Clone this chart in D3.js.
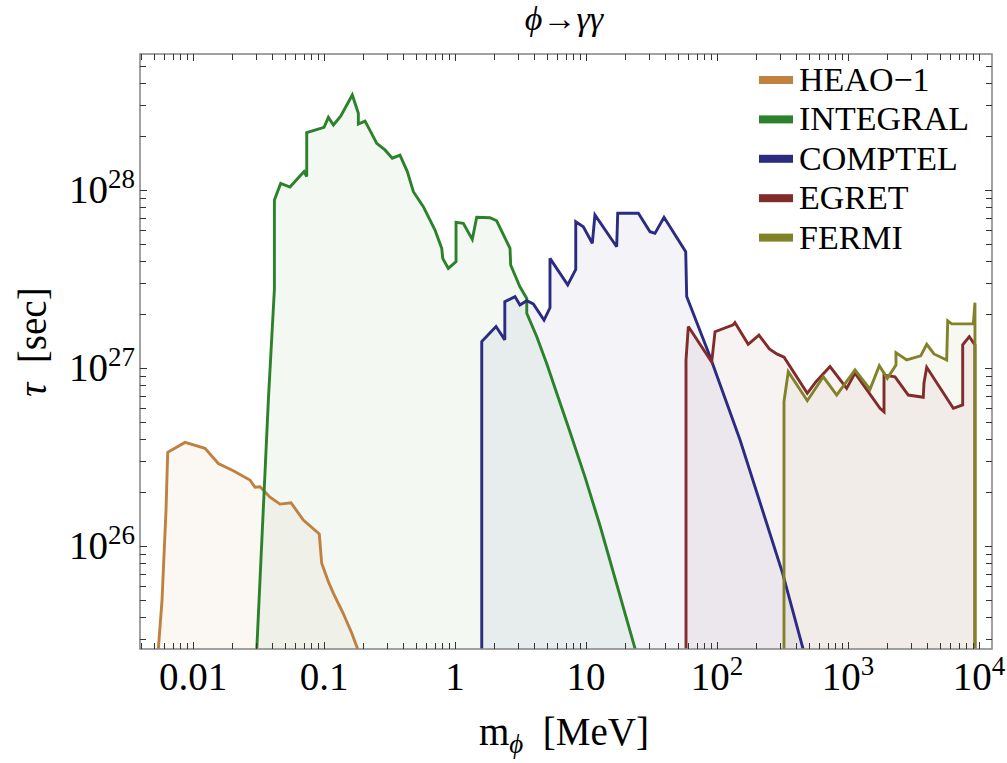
<!DOCTYPE html>
<html>
<head>
<meta charset="utf-8">
<script src="https://cdn.jsdelivr.net/npm/d3@7"></script>
<style>
  body { margin: 0; background: #fff; }
  text { font-family: "Liberation Serif", "Times New Roman", serif; fill: #000; }
</style>
</head>
<body>
<svg id="chart" width="1007" height="763"></svg>
<script>
// Lifetime limits tau (sec) versus scalar mass m (MeV) for phi -> gamma gamma.
const seriesNames = ["HEAO\u22121", "INTEGRAL", "COMPTEL", "EGRET", "FERMI"];
const seriesColors = ["#c0803f", "#2b822b", "#2b2b82", "#822b2b", "#82822b"];

const heaoData = [
  [0.00536, 2.3e25], [0.0058, 4.97e25], [0.00622, 1.59e26], [0.00641, 3.36e26],
  [0.00869, 3.82e26], [0.01235, 3.54e26], [0.0156, 2.91e26], [0.0203, 2.65e26],
  [0.0272, 2.35e26], [0.0297, 2.14e26], [0.0325, 2.15e26], [0.0387, 1.88e26],
  [0.0461, 1.72e26], [0.056, 1.75e26], [0.0695, 1.40e26], [0.092, 1.17e26],
  [0.096, 8.0e25], [0.108, 6.3e25], [0.118, 5.42e25], [0.140, 4.19e25],
  [0.163, 3.24e25], [0.1916, 2.35e25]
];

const integralData = [
  [0.0305, 2.4e25], [0.0376, 6.61e26], [0.0418, 2.77e27], [0.0418, 8.79e27],
  [0.0467, 1.09e28], [0.055, 1.04e28], [0.0704, 1.27e28], [0.0738, 1.19e28],
  [0.0738, 2.10e28], [0.1, 2.25e28], [0.108, 2.56e28], [0.118, 2.32e28],
  [0.134, 2.60e28], [0.1644, 3.42e28], [0.1828, 2.70e28], [0.1828, 2.35e28],
  [0.2056, 2.44e28], [0.227, 2.13e28], [0.2525, 1.83e28], [0.292, 1.68e28],
  [0.332, 1.51e28], [0.38, 1.57e28], [0.4325, 1.27e28], [0.481, 9.78e27],
  [0.573, 8.06e27], [0.7035, 5.96e27], [0.792, 4.70e27], [0.806, 4.13e27],
  [0.889, 3.63e27], [1.018, 3.96e27], [1.018, 6.58e27], [1.157, 6.50e27],
  [1.355, 5.28e27], [1.464, 7.03e27], [1.85, 6.99e27], [2.08, 6.72e27],
  [2.63, 4.70e27], [2.66, 3.79e27], [3.13, 2.86e27], [3.53, 2.46e27],
  [3.53, 2.03e27], [4.21, 1.50e27], [5.01, 1.06e27], [5.98, 7.21e26],
  [7.46, 4.49e26], [9.83, 2.44e26], [12.8, 1.30e26], [24.7, 2.38e25]
];

const comptelData = [
  [1.6, 2.4e25], [1.6, 1.41e27], [2.056, 1.71e27], [2.4, 1.44e27],
  [2.4, 2.36e27], [2.87, 2.52e27], [3.13, 2.26e27], [3.53, 2.39e27],
  [3.96, 2.29e27], [4.78, 1.86e27], [5.31, 2.18e27], [5.31, 4.13e27],
  [7.25, 2.93e27], [8.35, 3.58e27], [8.35, 6.64e27], [9.54, 6.22e27],
  [11.17, 5.02e27], [11.7, 7.24e27], [17.15, 4.80e27], [17.46, 7.40e27],
  [25.1, 7.40e27], [30.8, 5.83e27], [33.6, 5.71e27], [39.4, 7.03e27],
  [57.7, 4.50e27], [58.7, 2.52e27], [88.4, 1.16e27], [150, 3.94e26],
  [317, 7.03e25], [474, 2.35e25]
];

const egretData = [
  [58.0, 2.4e25], [58.0, 1.11e27], [60.4, 1.71e27], [91.1, 1.08e27],
  [96.6, 1.60e27], [133, 1.75e27], [137, 1.80e27], [173, 1.36e27],
  [209, 1.53e27], [251, 1.28e27], [286, 1.20e27], [325, 1.15e27],
  [489, 7.21e26], [570, 8.38e26], [729, 1.02e27], [977, 7.69e26],
  [1131, 9.37e26], [1755, 5.94e26], [1883, 5.68e26], [1883, 9.13e26],
  [2285, 8.93e26], [2886, 7.05e26], [3756, 6.85e26], [3802, 8.24e26],
  [3990, 1.01e27], [6368, 5.94e26], [7508, 6.20e26], [7508, 1.35e27],
  [8433, 1.50e27], [9316, 1.35e27], [9316, 2.4e25]
];

const fermiData = [
  [324.6, 2.4e25], [324.6, 6.47e26], [350, 9.53e26], [489, 6.55e26],
  [648, 8.93e26], [820, 7.05e26], [1131, 9.75e26], [1472, 7.6e26],
  [1734, 1.03e27], [1995, 8.75e26], [2324, 1.04e27], [2324, 1.22e27],
  [2805, 1.11e27], [3589, 1.17e27], [3990, 1.36e27], [4533, 1.20e27],
  [5665, 1.11e27], [5770, 1.84e27], [6190, 1.77e27], [9050, 1.77e27],
  [9316, 2.33e27], [9316, 2.4e25]
];

const seriesData = [heaoData, integralData, comptelData, egretData, fermiData];

// Axis ranges and labelled ticks
const massRange = [0.003938, 12568];
const tauRange = [2.64e25, 5.81e28];
const xLabelValues = [0.01, 0.1, 1, 10, 100, 1000, 10000];
const xLabelBases = ["0.01", "0.1", "1", "10", "10", "10", "10"];
const xLabelExps = ["", "", "", "", "2", "3", "4"];
const yLabelValues = [1e26, 1e27, 1e28];
const yLabelBases = ["10", "10", "10"];
const yLabelExps = ["26", "27", "28"];

const svg = d3.select("#chart");
const plot = { left: 140, right: 992, top: 54, bottom: 649 };

const x = d3.scaleLog().domain(massRange).range([plot.left, plot.right]);
const y = d3.scaleLog().domain(tauRange).range([plot.bottom, plot.top]);

svg.append("defs").append("clipPath").attr("id", "plotClip")
  .append("rect")
  .attr("x", plot.left).attr("y", plot.top)
  .attr("width", plot.right - plot.left).attr("height", plot.bottom - plot.top);

const dataLayer = svg.append("g").attr("clip-path", "url(#plotClip)");

const area = d3.area()
  .x(d => x(d[0]))
  .y0(plot.bottom + 20)
  .y1(d => y(d[1]));
const line = d3.line()
  .x(d => x(d[0]))
  .y(d => y(d[1]));

// translucent fills under each limit curve
seriesData.forEach((data, i) => {
  dataLayer.append("path")
    .attr("d", area(data))
    .attr("fill", seriesColors[i])
    .attr("fill-opacity", 0.06)
    .attr("stroke", "none");
});

// limit curves
seriesData.forEach((data, i) => {
  dataLayer.append("path")
    .attr("d", line(data))
    .attr("fill", "none")
    .attr("stroke", seriesColors[i])
    .attr("stroke-width", 2.9)
    .attr("stroke-linejoin", "miter")
    .attr("stroke-miterlimit", 3);
});

// frame
svg.append("rect")
  .attr("x", plot.left).attr("y", plot.top)
  .attr("width", plot.right - plot.left).attr("height", plot.bottom - plot.top)
  .attr("fill", "none").attr("stroke", "#8a8a8a").attr("stroke-width", 1.6);

// log ticks on all four sides, pointing inward
function logTicks(domain) {
  const out = [];
  const lo = Math.floor(Math.log10(domain[0]));
  const hi = Math.ceil(Math.log10(domain[1]));
  for (let e = lo; e <= hi; e++) {
    for (let k = 1; k <= 9; k++) {
      const v = k * Math.pow(10, e);
      if (v >= domain[0] * 1.001 && v <= domain[1] * 0.999) out.push({ v, major: k === 1 });
    }
  }
  return out;
}

const tickG = svg.append("g").attr("stroke", "#333").attr("stroke-width", 1);
logTicks(massRange).forEach(t => {
  const px = Math.round(x(t.v)) + 0.5;
  const len = t.major ? 7 : 6;
  tickG.append("line").attr("x1", px).attr("x2", px).attr("y1", plot.bottom).attr("y2", plot.bottom - len);
  tickG.append("line").attr("x1", px).attr("x2", px).attr("y1", plot.top).attr("y2", plot.top + len);
});
logTicks(tauRange).forEach(t => {
  const py = Math.round(y(t.v)) + 0.5;
  const len = t.major ? 7 : 6;
  tickG.append("line").attr("y1", py).attr("y2", py).attr("x1", plot.left).attr("x2", plot.left + len);
  tickG.append("line").attr("y1", py).attr("y2", py).attr("x1", plot.right).attr("x2", plot.right - len);
});

// tick labels
const tickFont = 39, supFont = 27;
xLabelValues.forEach((v, i) => {
  const t = svg.append("text")
    .attr("x", x(v)).attr("y", 690)
    .attr("text-anchor", "middle")
    .attr("font-size", tickFont);
  t.append("tspan").text(xLabelBases[i]);
  if (xLabelExps[i]) t.append("tspan").attr("dy", -15).attr("font-size", supFont).text(xLabelExps[i]);
});
yLabelValues.forEach((v, i) => {
  const t = svg.append("text")
    .attr("x", 135).attr("y", y(v) + 13)
    .attr("text-anchor", "end")
    .attr("font-size", tickFont);
  t.append("tspan").text(yLabelBases[i]);
  t.append("tspan").attr("dy", -15).attr("font-size", supFont).text(yLabelExps[i]);
});

// axis titles
const xTitle = svg.append("text")
  .attr("x", 564).attr("y", 745)
  .attr("text-anchor", "middle")
  .attr("font-size", 39);
xTitle.append("tspan").text("m");
xTitle.append("tspan").attr("dy", 8).attr("font-size", 27).attr("font-style", "italic").text("\u03d5");
xTitle.append("tspan").attr("dy", -8).text("\u2002[MeV]");

const yTitle = svg.append("text")
  .attr("transform", "translate(46,342) rotate(-90)")
  .attr("text-anchor", "middle")
  .attr("font-size", 39);
yTitle.append("tspan").attr("font-style", "italic").text("\u03c4");
yTitle.append("tspan").text("\u2002[sec]");

// title
const title = svg.append("text")
  .attr("x", 564).attr("y", 30)
  .attr("text-anchor", "middle")
  .attr("font-size", 34);
title.append("tspan").attr("font-style", "italic").text("\u03d5");
title.append("tspan").text("\u2192");
title.append("tspan").attr("font-style", "italic").text("\u03b3\u03b3");

// legend
const legend = svg.append("g");
seriesNames.forEach((name, i) => {
  const cy = 80 + i * 39.4;
  legend.append("rect")
    .attr("x", 759).attr("y", cy - 4)
    .attr("width", 34).attr("height", 8)
    .attr("fill", seriesColors[i]);
  legend.append("text")
    .attr("x", 799).attr("y", cy + 11)
    .attr("font-size", 34)
    .text(name);
});
</script>
</body>
</html>
